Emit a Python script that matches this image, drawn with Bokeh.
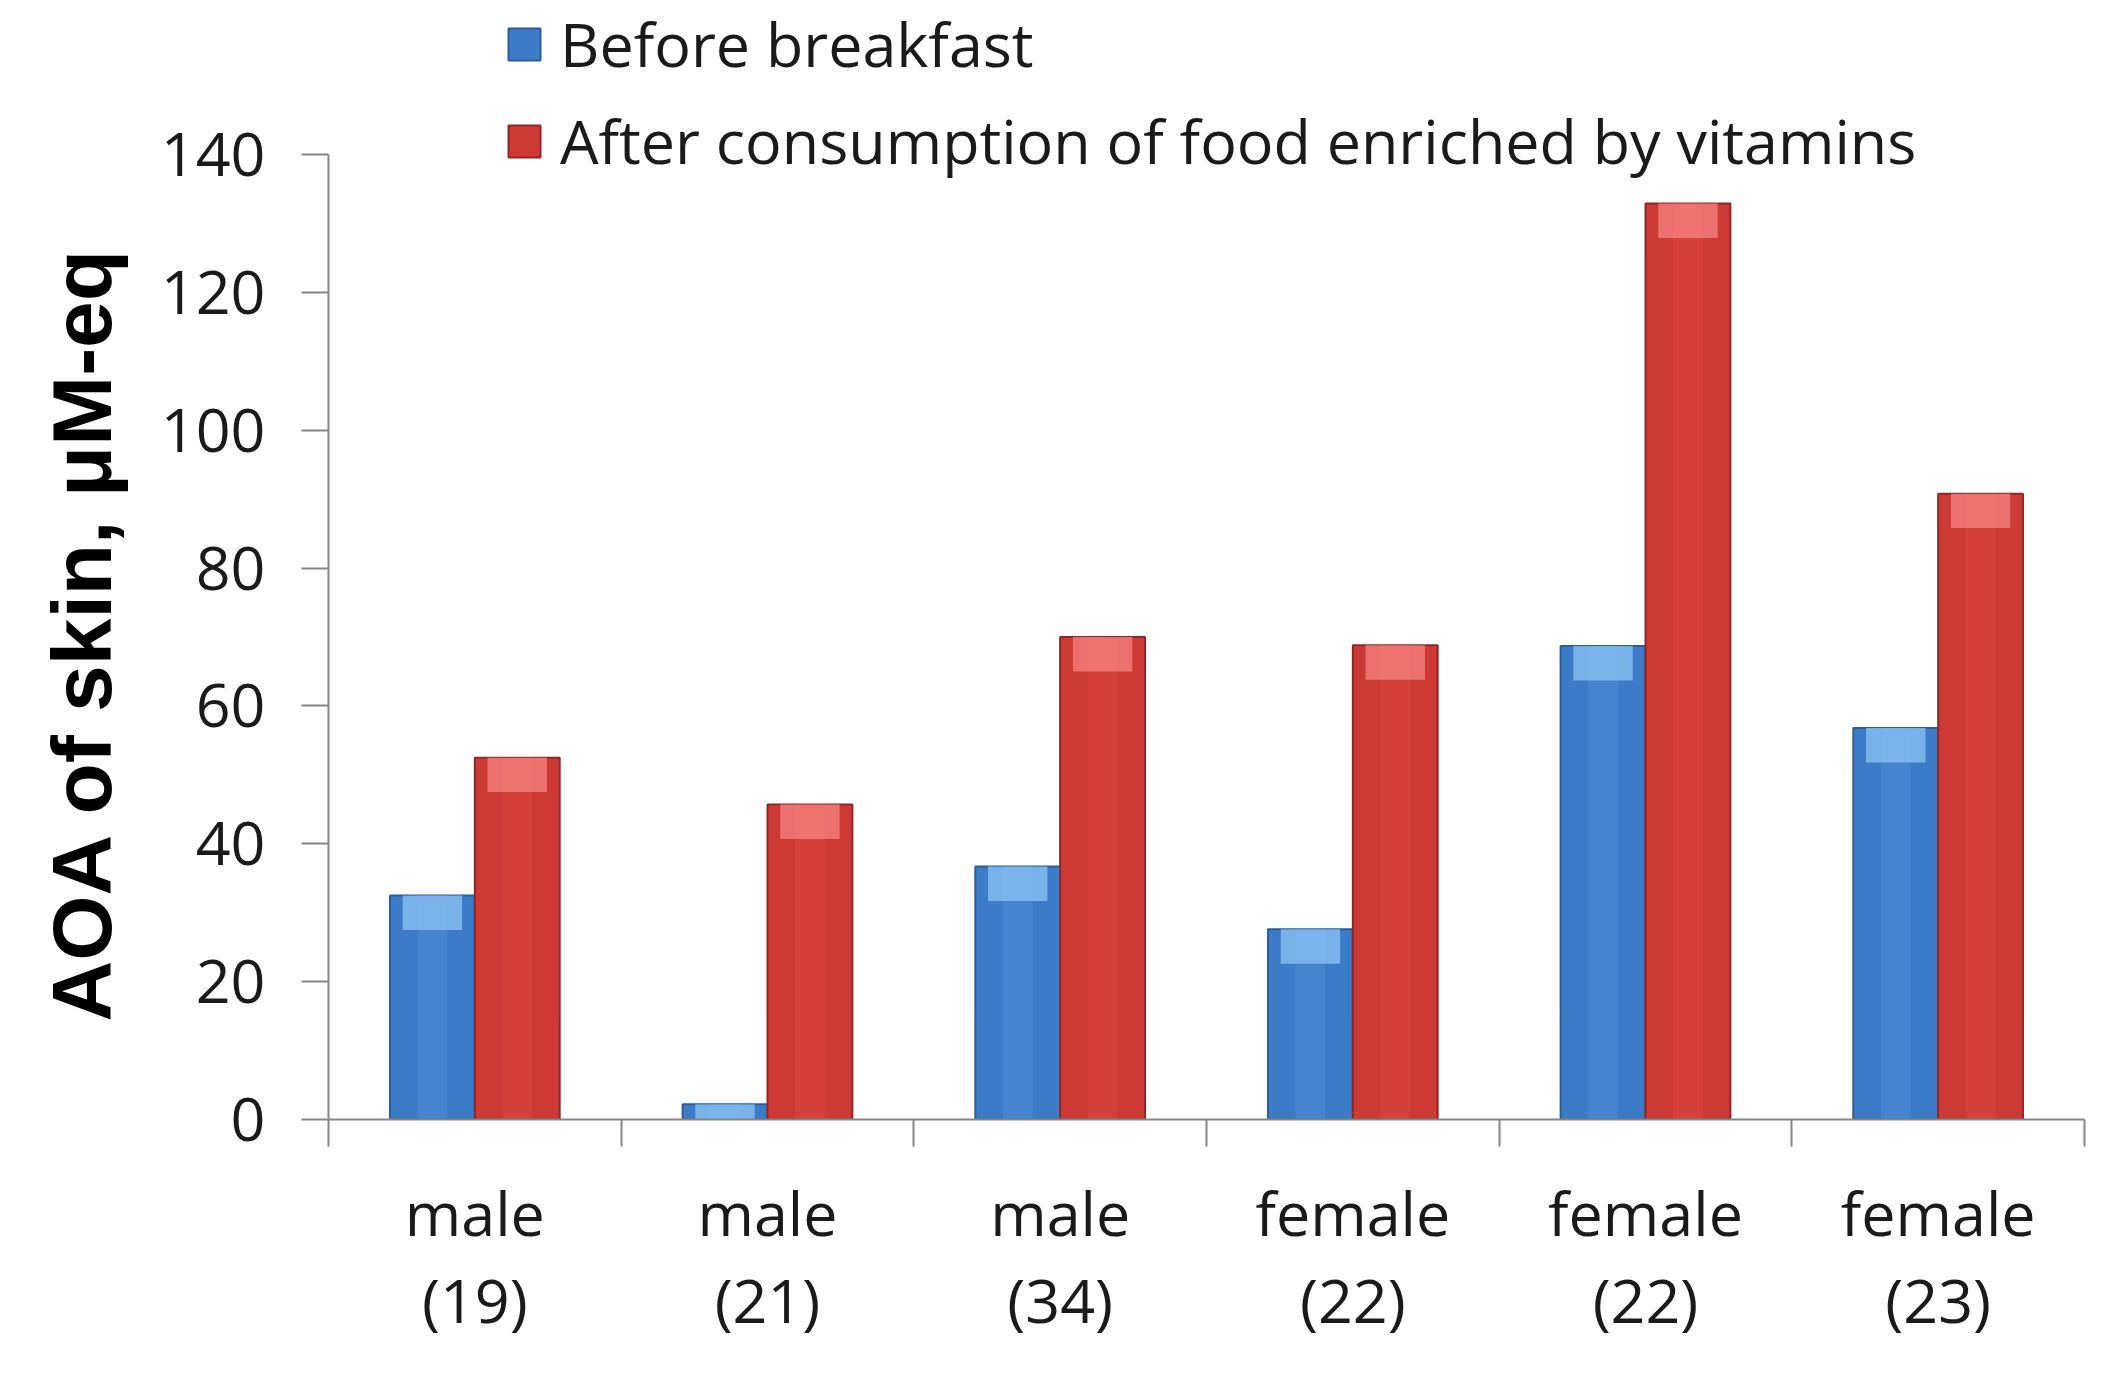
from bokeh.plotting import figure
from bokeh.models import Range1d, FixedTicker, Legend, LegendItem, ColumnDataSource, Title
from bokeh.embed import file_html
from bokeh.resources import INLINE

categories = ["male\n(19)", "male\n(21)", "male\n(34)", "female\n(22)", "female\n(22)", "female\n(23)"]
before_breakfast = [32.5, 2.2, 36.7, 27.6, 68.7, 56.8]
after_vitamins = [52.5, 45.7, 70.0, 68.8, 132.9, 90.8]
series_names = ["Before breakfast", "After consumption of food enriched by vitamins"]
y_ticks = [0, 20, 40, 60, 80, 100, 120, 140]
y_label = "AOA of skin, μM-eq"

FONT = "Open Sans"
FS = "61px"
BAR_W = 0.29
CAP = 5.0

W, H = 2086, 1368
LEFT, RIGHT, BOTTOM = 328, 2, 249
TOP_PX = 154               # pixel position of the 140 tick from the top
Y_MAX = 140
frame_h = H - BOTTOM
px_per_unit = (frame_h - TOP_PX) / Y_MAX
y_end = Y_MAX + TOP_PX / px_per_unit

n = len(categories)
centers = [i + 0.5 for i in range(n)]
xb = [c - BAR_W / 2 for c in centers]
xr = [c + BAR_W / 2 for c in centers]

p = figure(width=W, height=H, output_backend="svg", toolbar_location=None,
           x_range=Range1d(0, n), y_range=Range1d(0, y_end),
           min_border_left=LEFT, min_border_right=RIGHT, min_border_top=0,
           min_border_bottom=BOTTOM)
p.grid.visible = False
p.outline_line_color = None
p.background_fill_color = "white"
p.border_fill_color = "white"

src_b = ColumnDataSource(dict(x=xb, top=before_breakfast,
                              cap=[max(0, v - CAP) for v in before_breakfast]))
src_r = ColumnDataSource(dict(x=xr, top=after_vitamins,
                              cap=[max(0, v - CAP) for v in after_vitamins]))

rb = p.vbar(x="x", top="top", bottom=0, width=BAR_W, source=src_b,
            fill_color="#3c7bc8", line_color="#2d5c96", line_width=2)
p.vbar(x="x", top="top", bottom=0, width=BAR_W * 0.35, source=src_b,
       fill_color="#5a95dc", fill_alpha=0.35, line_color=None)
p.vbar(x="x", top="top", bottom="cap", width=BAR_W * 0.7, source=src_b,
       fill_color="#8cc4f4", fill_alpha=0.75, line_color=None)
rr = p.vbar(x="x", top="top", bottom=0, width=BAR_W, source=src_r,
            fill_color="#cd3935", line_color="#8f2825", line_width=2)
p.vbar(x="x", top="top", bottom=0, width=BAR_W * 0.35, source=src_r,
       fill_color="#e44c47", fill_alpha=0.35, line_color=None)
p.vbar(x="x", top="top", bottom="cap", width=BAR_W * 0.7, source=src_r,
       fill_color="#f58482", fill_alpha=0.75, line_color=None)

# y axis (only up to 140)
ya = p.yaxis[0]
ya.bounds = (0, Y_MAX)
ya.ticker = FixedTicker(ticks=y_ticks)
ya.minor_tick_line_color = None
ya.major_tick_in = 0
ya.major_tick_out = 27
ya.major_tick_line_color = "#868686"
ya.major_tick_line_width = 2
ya.axis_line_color = "#868686"
ya.axis_line_width = 2
ya.major_label_text_font = FONT
ya.major_label_text_font_size = FS
ya.major_label_text_color = "#1a1a1a"
ya.major_label_standoff = 36

ytitle = Title(text=y_label, align="left", offset=98,
               text_font="Liberation Sans", text_font_style="bold",
               text_font_size="84px", text_color="#000000", standoff=58)
p.add_layout(ytitle, "left")

# x axis: labels at group centres, minor ticks at group boundaries
xa = p.xaxis[0]
xa.ticker = FixedTicker(ticks=centers, minor_ticks=list(range(n + 1)))
xa.major_label_overrides = {c: lab for c, lab in zip(centers, categories)}
xa.major_tick_line_color = None
xa.minor_tick_in = 0
xa.minor_tick_out = 27
xa.minor_tick_line_color = "#868686"
xa.minor_tick_line_width = 2
xa.axis_line_color = "#868686"
xa.axis_line_width = 2
xa.major_label_text_font = FONT
xa.major_label_text_font_size = FS
xa.major_label_text_color = "#1a1a1a"
xa.major_label_text_line_height = 1.06
xa.major_label_standoff = 24

legend = Legend(items=[LegendItem(label=series_names[0], renderers=[rb]),
                       LegendItem(label=series_names[1], renderers=[rr])],
                location=(176, frame_h - 182), orientation="vertical",
                glyph_width=40, glyph_height=40, label_standoff=16,
                label_text_font=FONT, label_text_font_size=FS,
                label_text_color="#1a1a1a", spacing=14, padding=0, margin=0,
                border_line_color=None, background_fill_alpha=0)
p.add_layout(legend, "center")

open("out.html", "w").write(file_html(p, INLINE))
